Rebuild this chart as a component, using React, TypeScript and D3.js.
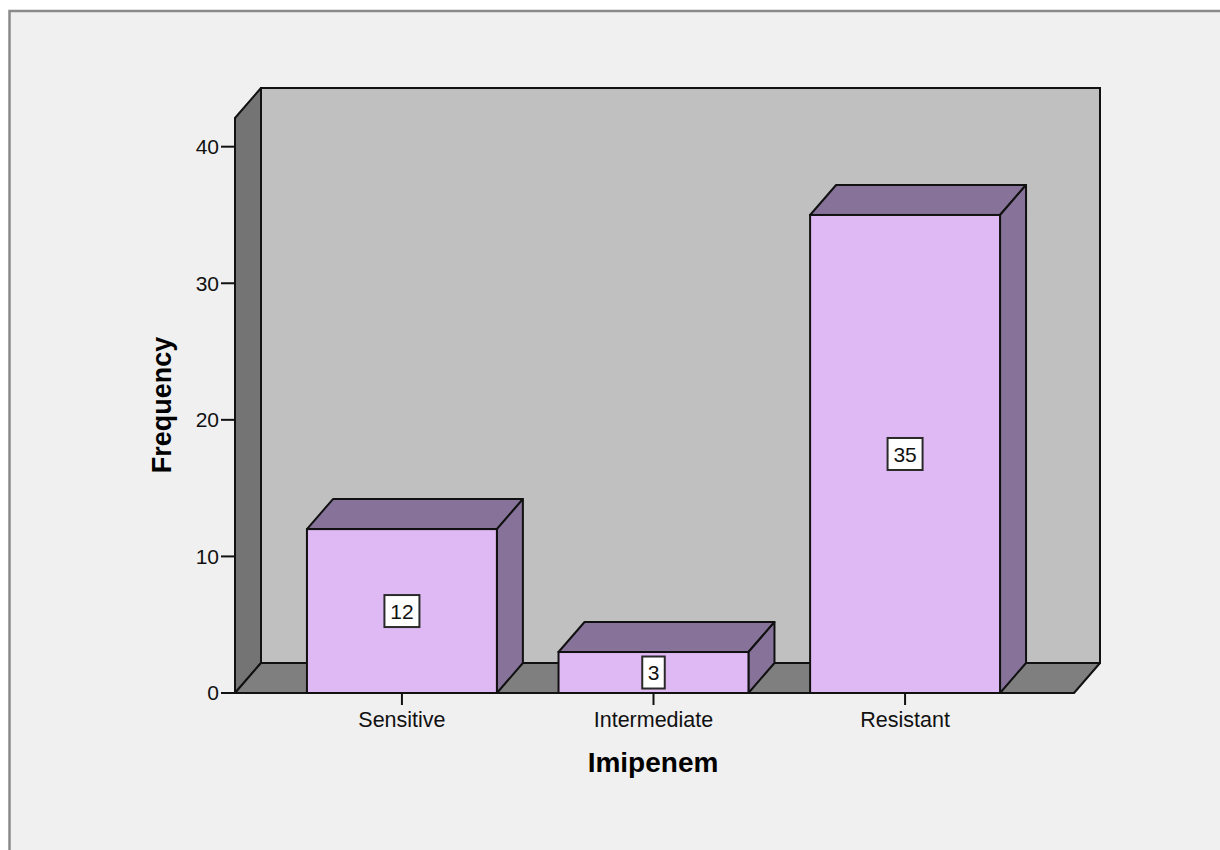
import React from "react";
import * as d3 from "d3";

// Imipenem susceptibility counts
const categories: string[] = ["Sensitive", "Intermediate", "Resistant"];
const frequencies: number[] = [12, 3, 35];
const yTicks: number[] = [0, 10, 20, 30, 40];
const xTitle = "Imipenem";
const yTitle = "Frequency";

const W = 1220;
const H = 850;

// Plot box (front plane) and 3D depth offset
const FRONT_LEFT = 235;
const FRONT_RIGHT = 1074;
const FRONT_BOTTOM = 693;
const FRONT_TOP = 118;
const DX = 26;
const DY = -30;

const FONT = "'Liberation Sans', Arial, Helvetica, sans-serif";

const COLORS = {
  page: "#ffffff",
  panel: "#f0f0f0",
  frame: "#8a8a8a",
  backWall: "#c0c0c0",
  sideWall: "#747474",
  floor: "#7f7f7f",
  barFront: "#dfb9f3",
  barTop: "#87739a",
  barSide: "#87739a",
  edge: "#111111",
  text: "#111111",
};

export default function App() {
  const y = d3.scaleLinear().domain([0, 42.1]).range([FRONT_BOTTOM, FRONT_TOP]);
  const x = d3
    .scaleBand<string>()
    .domain(categories)
    .range([FRONT_LEFT - 1, FRONT_RIGHT - 1])
    .paddingInner(0.245)
    .paddingOuter(0.29);

  const pts = (arr: [number, number][]) => arr.map((p) => p.join(",")).join(" ");

  const backLeft = FRONT_LEFT + DX;
  const backRight = FRONT_RIGHT + DX;
  const backTop = FRONT_TOP + DY;
  const backBottom = FRONT_BOTTOM + DY;

  return (
    <svg
      width={W}
      height={H}
      viewBox={`0 0 ${W} ${H}`}
      style={{ position: "absolute", left: 0, top: 0, background: COLORS.page }}
      fontFamily={FONT}
    >
      {/* outer chart panel */}
      <rect
        x={9.5}
        y={11}
        width={1400}
        height={1000}
        fill={COLORS.panel}
        stroke={COLORS.frame}
        strokeWidth={2.5}
      />

      {/* back wall */}
      <rect
        x={backLeft}
        y={backTop}
        width={backRight - backLeft}
        height={backBottom - backTop}
        fill={COLORS.backWall}
        stroke={COLORS.edge}
        strokeWidth={2}
      />
      {/* left wall */}
      <polygon
        points={pts([
          [FRONT_LEFT, FRONT_TOP],
          [backLeft, backTop],
          [backLeft, backBottom],
          [FRONT_LEFT, FRONT_BOTTOM],
        ])}
        fill={COLORS.sideWall}
        stroke={COLORS.edge}
        strokeWidth={2}
        strokeLinejoin="round"
      />
      {/* floor */}
      <polygon
        points={pts([
          [FRONT_LEFT, FRONT_BOTTOM],
          [backLeft, backBottom],
          [backRight, backBottom],
          [FRONT_RIGHT, FRONT_BOTTOM],
        ])}
        fill={COLORS.floor}
        stroke={COLORS.edge}
        strokeWidth={2}
        strokeLinejoin="round"
      />

      {/* y axis ticks */}
      {yTicks.map((t) => (
        <g key={t}>
          <line
            x1={FRONT_LEFT - 14}
            x2={FRONT_LEFT}
            y1={y(t)}
            y2={y(t)}
            stroke={COLORS.text}
            strokeWidth={2}
          />
          <text
            x={FRONT_LEFT - 16}
            y={y(t)}
            dy="0.35em"
            textAnchor="end"
            fontSize={21}
            fill={COLORS.text}
          >
            {t}
          </text>
        </g>
      ))}

      {/* 3D bars */}
      {categories.map((c, i) => {
        const v = frequencies[i];
        const x0 = x(c)!;
        const x1 = x0 + x.bandwidth();
        const yt = y(v);
        const yb = y(0);
        return (
          <g key={c}>
            <polygon
              points={pts([
                [x0, yt],
                [x0 + DX, yt + DY],
                [x1 + DX, yt + DY],
                [x1, yt],
              ])}
              fill={COLORS.barTop}
              stroke={COLORS.edge}
              strokeWidth={2}
              strokeLinejoin="round"
            />
            <polygon
              points={pts([
                [x1, yt],
                [x1 + DX, yt + DY],
                [x1 + DX, yb + DY],
                [x1, yb],
              ])}
              fill={COLORS.barSide}
              stroke={COLORS.edge}
              strokeWidth={2}
              strokeLinejoin="round"
            />
            <rect
              x={x0}
              y={yt}
              width={x1 - x0}
              height={yb - yt}
              fill={COLORS.barFront}
              stroke={COLORS.edge}
              strokeWidth={2}
            />
          </g>
        );
      })}

      {/* baseline */}
      <line
        x1={FRONT_LEFT}
        x2={FRONT_RIGHT}
        y1={FRONT_BOTTOM}
        y2={FRONT_BOTTOM}
        stroke={COLORS.edge}
        strokeWidth={2}
      />

      {/* value labels */}
      {categories.map((c, i) => {
        const v = frequencies[i];
        const cx = x(c)! + x.bandwidth() / 2;
        const cy = y(v / 2);
        const label = String(v);
        const bw = label.length * 12.5 + 10;
        const bh = 32;
        return (
          <g key={`lbl-${c}`}>
            <rect
              x={cx - bw / 2}
              y={cy - bh / 2}
              width={bw}
              height={bh}
              fill="#ffffff"
              stroke="#2a2a2a"
              strokeWidth={2}
            />
            <text
              x={cx}
              y={cy}
              dy="0.36em"
              textAnchor="middle"
              fontSize={21}
              fill={COLORS.text}
            >
              {label}
            </text>
          </g>
        );
      })}

      {/* category ticks and labels */}
      {categories.map((c) => {
        const cx = x(c)! + x.bandwidth() / 2;
        return (
          <g key={`tick-${c}`}>
            <line
              x1={cx}
              x2={cx}
              y1={FRONT_BOTTOM}
              y2={FRONT_BOTTOM + 12}
              stroke={COLORS.text}
              strokeWidth={2}
            />
            <text x={cx} y={727} textAnchor="middle" fontSize={21.5} fill={COLORS.text}>
              {c}
            </text>
          </g>
        );
      })}

      {/* axis titles */}
      <text
        x={653}
        y={772}
        textAnchor="middle"
        fontSize={28}
        fontWeight="bold"
        fill="#000"
      >
        {xTitle}
      </text>
      <text
        transform={`translate(171, 405) rotate(-90)`}
        textAnchor="middle"
        fontSize={27}
        fontWeight="bold"
        fill="#000"
      >
        {yTitle}
      </text>
    </svg>
  );
}
